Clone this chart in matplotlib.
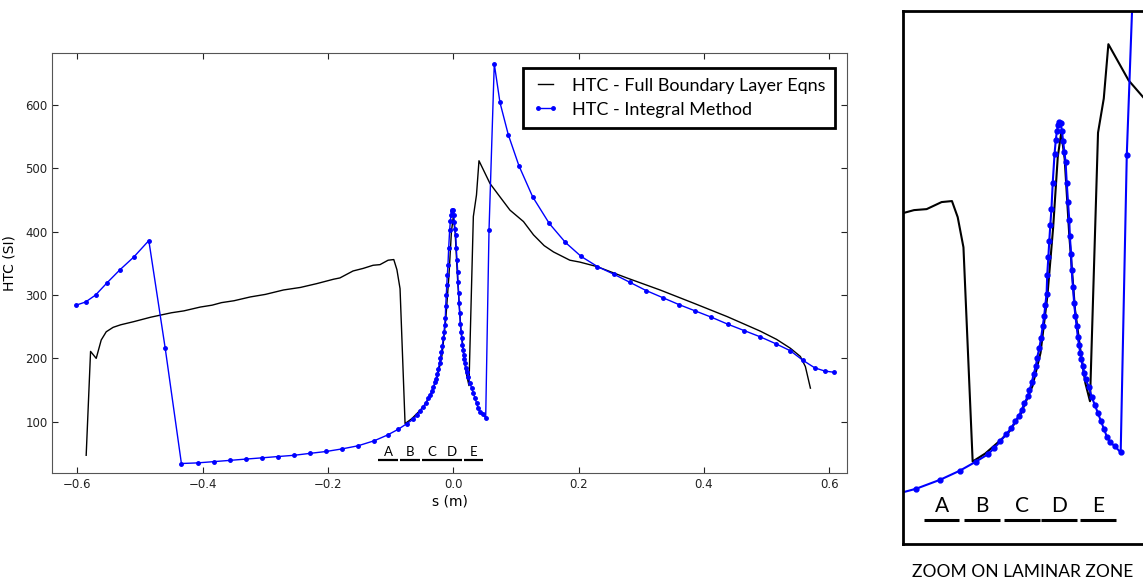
import matplotlib.pyplot as plt
import numpy as np

# HTC - full boundary layer eqns (black)
s_full = [-0.586, -0.579, -0.570, -0.562, -0.554, -0.543, -0.531, -0.510, -0.483, -0.450,
          -0.430, -0.404, -0.385, -0.370, -0.350, -0.324, -0.300, -0.271, -0.244, -0.218,
          -0.191, -0.181, -0.160, -0.144, -0.128, -0.117, -0.104, -0.095, -0.090, -0.085,
          -0.077, -0.066, -0.053, -0.045, -0.035, -0.025, -0.018, -0.012, -0.007, -0.003,
          0.000, 0.003, 0.007, 0.012, 0.017, 0.021, 0.025, 0.032, 0.037, 0.041,
          0.0586, 0.0745, 0.0905, 0.112, 0.128, 0.145, 0.160, 0.186, 0.202, 0.229,
          0.277, 0.330, 0.384, 0.437, 0.490, 0.516, 0.538, 0.554, 0.562, 0.570]
htc_full = [47, 211, 200, 229, 242, 249, 253, 258, 265, 272,
            275, 281, 284, 288, 291, 297, 301, 308, 312, 318,
            325, 327, 338, 342, 347, 348, 355, 356, 340, 310,
            97, 105, 118, 127, 145, 172, 205, 262, 330, 400,
            424, 398, 322, 248, 205, 175, 157, 424, 458, 512,
            476, 455, 434, 416, 395, 378, 368, 355, 352, 345,
            327, 308, 287, 266, 243, 230, 216, 203, 187, 153]

# HTC - integral method (blue)
s_int = [-0.602, -0.587, -0.571, -0.553, -0.532, -0.510, -0.486, -0.460, -0.434, -0.408,
         -0.382, -0.356, -0.331, -0.305, -0.280, -0.254, -0.229, -0.203, -0.178, -0.152,
         -0.126, -0.105, -0.088, -0.074, -0.064, -0.0585, -0.053, -0.048, -0.0436, -0.040,
         -0.037, -0.0345, -0.032, -0.029, -0.0276, -0.0255, -0.024, -0.022, -0.021, -0.019,
         -0.0175, -0.016, -0.0148, -0.0138, -0.0127, -0.0122, -0.0112, -0.0104, -0.0095, -0.0085,
         -0.0074, -0.0058, -0.0047, -0.0037, -0.0026, -0.0015, -0.0005, 0.0006, 0.0016, 0.0027,
         0.0038, 0.0048, 0.0059, 0.0070, 0.0075, 0.0086, 0.0091, 0.0102, 0.0112, 0.0123,
         0.0134, 0.0144, 0.0155, 0.0165, 0.0176, 0.0187, 0.0197, 0.0213, 0.0240, 0.0266,
         0.0293, 0.0320, 0.0346, 0.0373, 0.0399, 0.0426, 0.0469, 0.0517, 0.057, 0.0654,
         0.0745, 0.0878, 0.1048, 0.1267, 0.1532, 0.179, 0.204, 0.230, 0.256, 0.282,
         0.308, 0.334, 0.360, 0.386, 0.412, 0.438, 0.464, 0.490, 0.515, 0.538,
         0.558, 0.577, 0.593, 0.608]
htc_int = [284, 289, 300, 319, 340, 360, 386, 217, 34, 35,
           37, 39, 41, 43, 45, 47, 50, 53, 57, 62,
           70, 79, 88, 97, 104, 110, 117, 124, 130, 137,
           142, 148, 155, 162, 168, 176, 184, 192, 200, 210,
           220, 232, 242, 253, 264, 282, 300, 316, 332, 348,
           374, 403, 417, 426, 432, 435, 434, 426, 416, 405,
           395, 374, 355, 337, 321, 303, 287, 271, 255, 242,
           232, 221, 213, 205, 199, 192, 185, 179, 171, 161,
           153, 145, 137, 129, 121, 116, 112, 106, 402, 665,
           604, 553, 504, 455, 413, 383, 361, 345, 333, 320,
           307, 296, 285, 275, 265, 254, 244, 234, 223, 212,
           197, 185, 180, 178]

zones = ['A', 'B', 'C', 'D', 'E']
zone_s = [-0.104, -0.069, -0.034, -0.002, 0.032]
zone_w = 0.031

fig = plt.figure(figsize=(11.43, 5.81), dpi=100)

# main plot
ax = fig.add_axes([0.0458, 0.1864, 0.695, 0.7229])
ax.plot(s_full, htc_full, color='black', lw=1, label='HTC - Full Boundary Layer Eqns')
ax.plot(s_int, htc_int, color='blue', lw=1, marker='.', markersize=5,
        label='HTC - Integral Method')
ax.set_xlim(-0.640, 0.628)
ax.set_ylim(19.5, 682.6)
ax.set_xticks([-0.6, -0.4, -0.2, 0.0, 0.2, 0.4, 0.6])
ax.set_yticks([100, 200, 300, 400, 500, 600])
ax.tick_params(direction='in', top=True, right=True, length=4, labelsize=8.5, colors='#222222')
for sp in ax.spines.values():
    sp.set_color('#555555')
ax.set_xlabel('s (m)', fontsize=10, labelpad=3)
ax.set_ylabel('HTC (SI)', fontsize=10, labelpad=6)

for z, zs in zip(zones, zone_s):
    ax.text(zs, 52, z, ha='center', va='center', fontsize=9.5, family='Lato')
    ax.plot([zs - zone_w / 2, zs + zone_w / 2], [39, 39], color='black', lw=1.6,
            solid_capstyle='butt')

leg = ax.legend(loc='upper right', bbox_to_anchor=(0.9853, 0.9643), borderaxespad=0,
                fancybox=False, framealpha=1, edgecolor='black',
                prop={'family': 'Lato', 'size': 13}, handlelength=1.4,
                handletextpad=0.75, numpoints=2, labelspacing=0.45, borderpad=0.55)
leg.get_frame().set_linewidth(2)

# zoom panel
ax2 = fig.add_axes([903.3 / 1143, 1 - 544 / 581, (1143 - 903.3) / 1143, 533 / 581])
ax2.plot(s_full, htc_full, color='black', lw=1.5)
ax2.plot(s_int, htc_int, color='blue', lw=1.5, marker='o', markersize=3.5)
ax2.set_xlim(-0.1373, 0.0711)
ax2.set_ylim(15, 545)
ax2.set_xticks([])
ax2.set_yticks([])
for side in ['left', 'top', 'bottom']:
    ax2.spines[side].set_linewidth(2)
    ax2.spines[side].set_color('black')
ax2.spines['right'].set_visible(False)
for z, zs in zip(zones, zone_s):
    ax2.text(zs, 53, z, ha='center', va='center', fontsize=15, family='Lato')
    ax2.plot([zs - zone_w / 2, zs + zone_w / 2], [39, 39], color='black', lw=2.2,
             solid_capstyle='butt')

fig.text(1023 / 1143, 1 - 572 / 581, 'ZOOM ON LAMINAR ZONE', ha='center', va='center',
         fontsize=12.5, family='Lato')

fig.savefig('out.png', dpi=100)
